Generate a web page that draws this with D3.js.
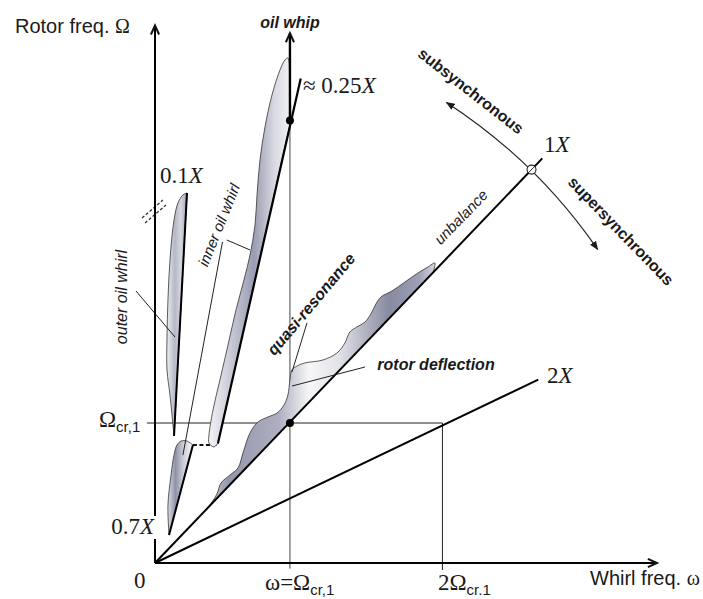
<!DOCTYPE html>
<html>
<head>
<meta charset="utf-8">
<script src="https://cdn.jsdelivr.net/npm/d3@7"></script>
<style>
  body { margin: 0; background: #fff; }
  svg { display: block; }
  text { font-family: "Liberation Sans", Arial, sans-serif; fill: #1a1a1a; }
  .math { font-family: "Liberation Serif", "Times New Roman", serif; }
</style>
</head>
<body>
<div id="chart"></div>
<script>
// values, in units of the first critical speed (Omega_cr,1 = 1)
const xTicks = [1, 2.13]
const yTicks = [1]
const oneXLine = [[0, 0], [2.87, 2.89]]
const twoXLine = [[0, 0], [2.84, 1.31]]
const syncPoint = [2.79, 2.81]
const arcEnds = [[2.16, 3.29], [3.28, 2.24]]
const whipDot = [1.0, 3.16]
const critDot = [1, 1]

// outer oil whirl (0.1X), outline then straight edge
const outerWhirl = [[0.237, 2.643], [0.207, 2.629], [0.17, 2.571], [0.141, 2.45], [0.111, 2.164],
  [0.096, 1.879], [0.089, 1.614], [0.089, 1.379], [0.111, 1.2], [0.133, 0.986], [0.141, 0.907]]

// lower whirl branch starting near 0.7X
const lowWhirl = [[0.281, 0.843], [0.237, 0.871], [0.193, 0.871], [0.163, 0.843], [0.141, 0.771],
  [0.119, 0.629], [0.096, 0.414], [0.104, 0.2]]
const whirlJump = [[0.281, 0.843], [0.467, 0.843], [0.467, 0.9]]

// inner oil whirl growing into oil whip
const innerWhirl = [[0.467, 0.857], [0.437, 0.829], [0.4, 0.857], [0.4, 0.914], [0.43, 1.093],
  [0.481, 1.307], [0.541, 1.557], [0.6, 1.807], [0.659, 2.021], [0.704, 2.2], [0.741, 2.414],
  [0.756, 2.629], [0.778, 2.879], [0.815, 3.114], [0.867, 3.343], [0.926, 3.521], [0.963, 3.593],
  [0.985, 3.607], [0.998, 3.45], [1.007, 3.164]]
const quarterXLine = [[0.467, 0.857], [1.08, 3.46]]

// rotor deflection along 1X (upper edge, closed on the 1X line)
const deflection = [[0.378, 0.38], [0.422, 0.436], [0.459, 0.493], [0.489, 0.571], [0.556, 0.629],
  [0.615, 0.679], [0.652, 0.786], [0.704, 0.929], [0.763, 1.007], [0.837, 1.043], [0.904, 1.071],
  [0.956, 1.129], [0.985, 1.2], [1.0, 1.307], [1.015, 1.379], [1.052, 1.407], [1.111, 1.429],
  [1.244, 1.45], [1.348, 1.5], [1.407, 1.571], [1.444, 1.65], [1.496, 1.686], [1.556, 1.721],
  [1.6, 1.779], [1.637, 1.85], [1.674, 1.9], [1.756, 1.943], [1.852, 2.007], [1.948, 2.071],
  [2.022, 2.114], [2.074, 2.143], [2.06, 2.074]]

// leader lines for the annotations
const leaders = [
  [[-0.141, 1.943], [0.148, 1.614]],   // outer oil whirl
  [[0.533, 2.307], [0.704, 2.236]],    // inner oil whirl, upper
  [[0.5, 2.293], [0.207, 0.771]],      // inner oil whirl, lower
  [[1.126, 1.714], [1.015, 1.364]],    // quasi-resonance
  [[1.556, 1.4], [1.015, 1.264]]       // rotor deflection
]
const axisBreak = [[[-0.096, 2.464], [0.059, 2.593]], [[-0.074, 2.429], [0.081, 2.557]]]

const width = 703
const height = 599

const svg = d3.select("#chart")
  .append("svg")
  .attr("width", width)
  .attr("height", height)

const xScale = d3.scaleLinear().domain([0, 3.72]).range([155, 657])
const yScale = d3.scaleLinear().domain([0, 3.84]).range([563, 25.4])

const line = d3.line().x(d => xScale(d[0])).y(d => yScale(d[1]))
const smooth = d3.line().x(d => xScale(d[0])).y(d => yScale(d[1])).curve(d3.curveCatmullRom.alpha(0.5))

// gradients
const defs = svg.append("defs")
function gradient(id, stops) {
  const g = defs.append("linearGradient").attr("id", id)
    .attr("x1", 0).attr("y1", 0).attr("x2", 1).attr("y2", 0)
  stops.forEach(s => g.append("stop").attr("offset", s[0]).attr("stop-color", s[1]))
}
gradient("gWhirl", [[0, "#f4f4f7"], [0.3, "#c3c5d2"], [0.55, "#9a9db2"], [0.8, "#d8d9e2"], [1, "#f2f2f5"]])
gradient("gThin", [[0, "#eeeef2"], [0.4, "#b5b8c8"], [0.7, "#d6d7e0"], [1, "#9fa2b5"]])
gradient("gLow", [[0, "#dcdde5"], [0.3, "#8f92a8"], [0.6, "#c9cbd6"], [1, "#fbfbfc"]])
gradient("gDefl", [[0, "#d0d1da"], [0.1, "#9497ab"], [0.32, "#aeb0c1"], [0.45, "#f6f6f8"],
  [0.58, "#e2e3e9"], [0.8, "#878aa0"], [0.93, "#9ea1b4"], [1, "#d5d6de"]])

defs.append("marker")
  .attr("id", "tri")
  .attr("viewBox", "0 0 10 10")
  .attr("refX", 9).attr("refY", 5)
  .attr("markerWidth", 9).attr("markerHeight", 9)
  .attr("markerUnits", "userSpaceOnUse")
  .attr("orient", "auto-start-reverse")
  .append("path").attr("d", "M0,1 L10,5 L0,9 Z").attr("fill", "#1a1a1a")

function chevron(tip, angle) {
  // open arrow head, angle = direction of travel in radians (screen)
  const len = 10, spread = 0.42
  const pts = [angle + Math.PI - spread, angle + Math.PI + spread].map(a =>
    [tip[0] + len * Math.cos(a), tip[1] + len * Math.sin(a)])
  svg.append("path")
    .attr("d", `M${pts[0]}L${tip}L${pts[1]}`)
    .attr("fill", "none").attr("stroke", "#111").attr("stroke-width", 2)
}

// guide lines at the critical speed
svg.append("line")
  .attr("x1", xScale(-0.06)).attr("x2", xScale(xTicks[1]))
  .attr("y1", yScale(yTicks[0])).attr("y2", yScale(yTicks[0]))
  .attr("stroke", "#222").attr("stroke-width", 1)
svg.append("line")
  .attr("x1", xScale(xTicks[1])).attr("x2", xScale(xTicks[1]))
  .attr("y1", yScale(-0.05)).attr("y2", yScale(yTicks[0]))
  .attr("stroke", "#222").attr("stroke-width", 1)
svg.append("line")
  .attr("x1", xScale(xTicks[0])).attr("x2", xScale(xTicks[0]))
  .attr("y1", yScale(-0.04)).attr("y2", yScale(whipDot[1]))
  .attr("stroke", "#444").attr("stroke-width", 1)

// whirl shapes
svg.append("path").attr("d", smooth(outerWhirl) + "Z")
  .attr("fill", "url(#gThin)").attr("stroke", "#333").attr("stroke-width", 0.8)
svg.append("path").attr("d", line([outerWhirl[0], outerWhirl[outerWhirl.length - 1]]))
  .attr("stroke", "#000").attr("stroke-width", 2)

svg.append("path").attr("d", smooth(lowWhirl) + "Z")
  .attr("fill", "url(#gLow)").attr("stroke", "#333").attr("stroke-width", 0.8)
svg.append("path").attr("d", line([lowWhirl[0], lowWhirl[lowWhirl.length - 1]]))
  .attr("stroke", "#000").attr("stroke-width", 2)
svg.append("path").attr("d", line(whirlJump))
  .attr("fill", "none").attr("stroke", "#111").attr("stroke-width", 1.8).attr("stroke-dasharray", "4,2.5")

svg.append("path").attr("d", smooth(innerWhirl) + "Z")
  .attr("fill", "url(#gWhirl)").attr("stroke", "#333").attr("stroke-width", 0.8)
svg.append("path").attr("d", line(quarterXLine))
  .attr("stroke", "#000").attr("stroke-width", 2.2)

svg.append("path").attr("d", smooth(deflection) + "Z")
  .attr("fill", "url(#gDefl)").attr("stroke", "#333").attr("stroke-width", 0.8)

// oil whip line with arrow
svg.append("line")
  .attr("x1", xScale(whipDot[0])).attr("x2", xScale(whipDot[0]))
  .attr("y1", yScale(whipDot[1])).attr("y2", yScale(3.785))
  .attr("stroke", "#000").attr("stroke-width", 2.4)
chevron([xScale(whipDot[0]), yScale(3.785)], -Math.PI / 2)

// 1X and 2X lines
svg.append("path").attr("d", line(oneXLine)).attr("stroke", "#000").attr("stroke-width", 2)
svg.append("path").attr("d", line(twoXLine)).attr("stroke", "#000").attr("stroke-width", 2)

// sub / super synchronous arc centred on the origin
const o = [xScale(0), yScale(0)]
const sp = [xScale(syncPoint[0]), yScale(syncPoint[1])]
const r = Math.hypot(sp[0] - o[0], sp[1] - o[1])
const a0 = [xScale(arcEnds[0][0]), yScale(arcEnds[0][1])]
const a1 = [xScale(arcEnds[1][0]), yScale(arcEnds[1][1])]
svg.append("path")
  .attr("d", `M${a0}A${r},${r} 0 0 1 ${a1}`)
  .attr("fill", "none").attr("stroke", "#222").attr("stroke-width", 1.2)
  .attr("marker-start", "url(#tri)").attr("marker-end", "url(#tri)")
svg.append("circle").attr("cx", sp[0]).attr("cy", sp[1]).attr("r", 4.5)
  .attr("fill", "#fff").attr("stroke", "#222").attr("stroke-width", 1.1)
svg.append("line")
  .attr("x1", sp[0] - 3.5).attr("y1", sp[1] + 3.5).attr("x2", sp[0] + 3.5).attr("y2", sp[1] - 3.5)
  .attr("stroke", "#222").attr("stroke-width", 1)

// leaders and axis break
leaders.forEach(l => svg.append("path").attr("d", line(l)).attr("stroke", "#222").attr("stroke-width", 1))
axisBreak.forEach(l => svg.append("path").attr("d", line(l))
  .attr("stroke", "#333").attr("stroke-width", 1.3).attr("stroke-dasharray", "3,2"))

// axes
svg.append("line").attr("x1", xScale(0)).attr("x2", xScale(0))
  .attr("y1", yScale(0)).attr("y2", yScale(3.84)).attr("stroke", "#000").attr("stroke-width", 2)
chevron([xScale(0), yScale(3.84)], -Math.PI / 2)
svg.append("line").attr("x1", xScale(0)).attr("x2", xScale(3.72))
  .attr("y1", yScale(0)).attr("y2", yScale(0)).attr("stroke", "#000").attr("stroke-width", 2)
chevron([xScale(3.72), yScale(0)], 0)

// dots
;[whipDot, critDot].forEach(d => svg.append("circle")
  .attr("cx", xScale(d[0])).attr("cy", yScale(d[1])).attr("r", 4).attr("fill", "#000"))

// ----- text -----
function mathLabel(x, y, parts, anchor) {
  const t = svg.append("text").attr("x", x).attr("y", y).attr("text-anchor", anchor || "start")
  parts.forEach(p => {
    const s = t.append("tspan").text(p.t)
    if (p.sub) s.attr("font-size", 15).attr("dy", p.dy || 5)
    else s.attr("class", "math").attr("font-size", 23)
    if (p.back) s.attr("dy", -5)
    if (p.it) s.attr("font-style", "italic")
  })
  return t
}

const ax1 = svg.append("text").attr("x", 15).attr("y", 33).attr("font-size", 20)
ax1.append("tspan").text("Rotor freq. ")
ax1.append("tspan").attr("class", "math").text("Ω")
const ax2 = svg.append("text").attr("x", 590).attr("y", 585).attr("font-size", 20)
ax2.append("tspan").text("Whirl freq. ")
ax2.append("tspan").attr("class", "math").text("ω")

mathLabel(134, 588, [{t: "0"}])
const l07 = mathLabel(154, 534, [{t: "0.7"}, {t: "X", it: true}], "end")
const bb = l07.node().getBBox()
svg.insert("rect", "text").attr("x", bb.x + bb.width - 4).attr("y", bb.y + 2)
  .attr("width", 8).attr("height", bb.height - 2).attr("fill", "#fff")
mathLabel(99, 427, [{t: "Ω"}, {t: "cr,1", sub: true}])
mathLabel(265, 590, [{t: "ω=Ω"}, {t: "cr,1", sub: true}])
mathLabel(438, 590, [{t: "2Ω"}, {t: "cr.1", sub: true}])
mathLabel(160, 183, [{t: "0.1"}, {t: "X", it: true}])
mathLabel(303, 93, [{t: "≈ 0.25"}, {t: "X", it: true}])
mathLabel(544, 152, [{t: "1"}, {t: "X", it: true}])
mathLabel(547, 383, [{t: "2"}, {t: "X", it: true}])

function note(txt, x, y, rot, size, weight, style) {
  svg.append("text")
    .attr("transform", `translate(${x},${y}) rotate(${rot})`)
    .attr("text-anchor", "middle").attr("dy", "0.35em")
    .attr("font-size", size).attr("font-weight", weight).attr("font-style", style)
    .text(txt)
}
note("oil whip", 290, 22, 0, 16, "bold", "italic")
note("subsynchronous", 471, 91, 38, 16, "bold", "normal")
note("supersynchronous", 621, 231, 46, 16, "bold", "normal")
note("unbalance", 461, 217, -46, 15, "normal", "italic")
note("quasi-resonance", 311, 304, -50, 16, "bold", "italic")
note("rotor deflection", 436, 364, 0, 16, "bold", "italic")
note("inner oil whirl", 219, 225, -68, 15, "normal", "italic")
note("outer oil whirl", 121, 297, -90, 16, "normal", "italic")
</script>
</body>
</html>
